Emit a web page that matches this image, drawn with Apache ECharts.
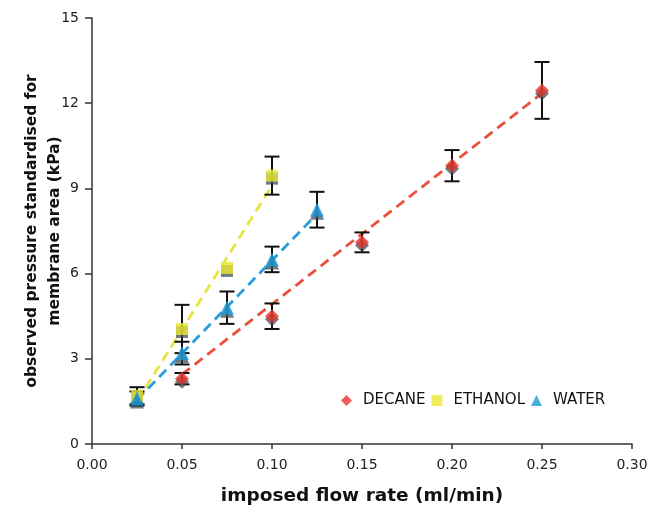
<!DOCTYPE html>
<html>
<head>
<meta charset="utf-8">
<script src="https://cdn.jsdelivr.net/npm/echarts@6/dist/echarts.min.js"></script>
<style>html,body{margin:0;padding:0;background:#fff}#chart{width:653px;height:509px}</style>
</head>
<body>
<div id="chart"></div>
<script>
// measured points (flow rate ml/min, pressure kPa, error +/-)
var decaneX = [0.05, 0.10, 0.15, 0.20, 0.25];
var decaneY = [2.3, 4.5, 7.1, 9.8, 12.45];
var decaneErr = [0.2, 0.45, 0.35, 0.55, 1.0];

var ethanolX = [0.025, 0.05, 0.075, 0.10];
var ethanolY = [1.7, 4.05, 6.2, 9.45];
var ethanolErr = [0.3, 0.85, 0, 0.67];

var waterX = [0.025, 0.05, 0.075, 0.10, 0.125];
var waterY = [1.6, 3.2, 4.8, 6.5, 8.25];
var waterErr = [0.25, 0.4, 0.57, 0.45, 0.63];

// dashed trend lines (end points)
var decaneFit = [[0.05, 2.45], [0.25, 12.35]];
var ethanolFit = [[0.025, 1.5], [0.10, 9.1]];
var waterFit = [[0.025, 1.55], [0.125, 8.1]];

var seriesNames = ['DECANE', 'ETHANOL', 'WATER'];
var colors = ['#e8342a', '#ebe934', '#1b9ad9'];
var lineColors = ['#e9503a', '#e6e43e', '#2a9dd8'];
var symbols = ['diamond', 'rect', 'triangle'];
var symbolSizes = [14, 12, 14];

function pts(xs, ys) {
    return xs.map(function (x, i) { return [x, ys[i]]; });
}
function errs(xs, ys, es) {
    var out = [];
    xs.forEach(function (x, i) {
        if (es[i] > 0) out.push([x, ys[i] - es[i], ys[i] + es[i]]);
    });
    return out;
}

function renderErr(params, api) {
    var lo = api.coord([api.value(0), api.value(1)]);
    var hi = api.coord([api.value(0), api.value(2)]);
    var w = 7.5;
    var st = { stroke: '#111', lineWidth: 2 };
    return {
        type: 'group',
        children: [
            { type: 'line', shape: { x1: lo[0], y1: lo[1], x2: hi[0], y2: hi[1] }, style: st },
            { type: 'line', shape: { x1: lo[0] - w, y1: lo[1], x2: lo[0] + w, y2: lo[1] }, style: st },
            { type: 'line', shape: { x1: hi[0] - w, y1: hi[1], x2: hi[0] + w, y2: hi[1] }, style: st }
        ]
    };
}

var allX = [decaneX, ethanolX, waterX];
var allY = [decaneY, ethanolY, waterY];
var allE = [decaneErr, ethanolErr, waterErr];
var fits = [decaneFit, ethanolFit, waterFit];

var series = [];
for (var i = 0; i < 3; i++) {
    series.push({
        type: 'line',
        name: seriesNames[i] + ' fit',
        data: fits[i],
        symbol: 'none',
        silent: true,
        z: 1,
        lineStyle: { color: lineColors[i], width: 2.8, type: [10, 6] }
    });
}
for (var i = 0; i < 3; i++) {
    series.push({
        type: 'custom',
        name: seriesNames[i] + ' err',
        renderItem: renderErr,
        data: errs(allX[i], allY[i], allE[i]),
        z: 2
    });
}
for (var i = 0; i < 3; i++) {
    series.push({
        type: 'scatter',
        name: seriesNames[i],
        data: pts(allX[i], allY[i]),
        symbol: symbols[i],
        symbolSize: symbolSizes[i],
        z: 3,
        itemStyle: {
            color: colors[i],
            shadowColor: 'rgba(55,70,80,0.9)',
            shadowBlur: 0,
            shadowOffsetX: 0,
            shadowOffsetY: 3
        }
    });
}

var chart = echarts.init(document.getElementById('chart'), null, { renderer: 'canvas' });
chart.setOption({
    animation: false,
    textStyle: { fontFamily: 'DejaVu Sans' },
    grid: { left: 92, right: 21, top: 18, bottom: 65, containLabel: false, outerBoundsMode: 'none' },
    legend: {
        data: seriesNames.map(function (n, i) { return { name: n, icon: symbols[i] }; }),
        left: 336,
        top: 388,
        itemWidth: 11,
        itemHeight: 11,
        itemGap: 6,
        textStyle: { fontSize: 15, color: '#111', fontFamily: 'DejaVu Sans', padding: [0, 0, 0, 6] }
    },
    xAxis: {
        type: 'value',
        min: 0,
        max: 0.3,
        interval: 0.05,
        name: 'imposed flow rate (ml/min)',
        nameLocation: 'middle',
        nameGap: 43,
        nameTextStyle: { fontSize: 18.5, fontWeight: 'bold', color: '#111' },
        axisLine: { lineStyle: { color: '#333', width: 1.5 } },
        axisTick: { length: 5, lineStyle: { color: '#333', width: 1.5 } },
        axisLabel: {
            fontSize: 14, color: '#222', margin: 14,
            formatter: function (v) { return v.toFixed(2); }
        },
        splitLine: { show: false }
    },
    yAxis: {
        type: 'value',
        min: 0,
        max: 15,
        interval: 3,
        name: 'observed pressure standardised for\nmembrane area (kPa)',
        nameLocation: 'middle',
        nameGap: 26,
        nameMoveOverlap: false,
        nameTextStyle: { fontSize: 15.5, fontWeight: 'bold', color: '#111', lineHeight: 23 },
        axisLine: { show: true, lineStyle: { color: '#333', width: 1.5 } },
        axisTick: { show: true, length: 7, lineStyle: { color: '#333', width: 1.5 } },
        axisLabel: { fontSize: 14, color: '#222', margin: 13 },
        splitLine: { show: false }
    },
    series: series
});
</script>
</body>
</html>
